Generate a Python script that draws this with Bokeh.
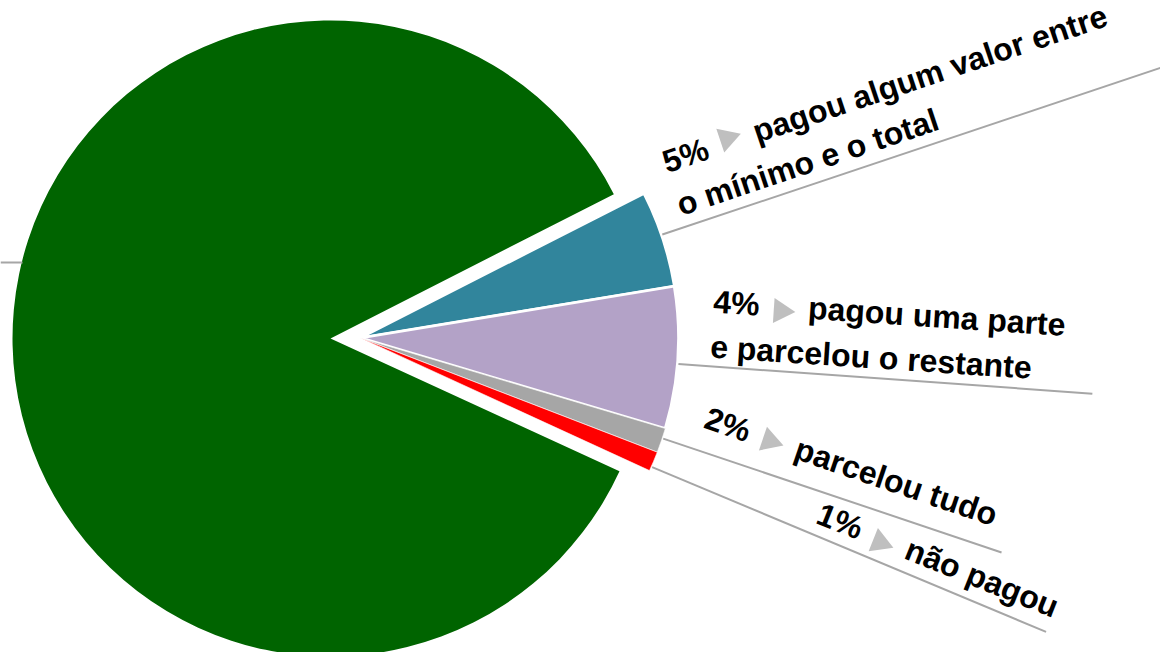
import math
from bokeh.plotting import figure
from bokeh.models import Range1d
from bokeh.core.properties import value
from bokeh.embed import file_html
from bokeh.resources import INLINE

# ---- data ----
categories = ["pagou o total", "pagou algum valor entre o mínimo e o total",
              "pagou uma parte e parcelou o restante", "parcelou tudo", "não pagou"]
shares = [85.65, 4.9, 7.2, 1.25, 1.0]          # slice sizes
pct_labels = ["5%", "4%", "2%", "1%"]            # printed labels of the small slices
label_line1 = ["pagou algum valor entre", "pagou uma parte", "parcelou tudo", "não pagou"]
label_line2 = ["o mínimo e o total", "e parcelou o restante", "", ""]
colors = ["#006400", "#31859C", "#B3A2C7", "#A6A6A6", "#FF0000"]

# ---- layout (reference pixel space, y measured down from top) ----
W, H = 1160, 652
center = (330, 338)
radius = 318
explode = 30
start_deg = 27.0
stroke = [0, 2.5, 2.8, 0.6, 0.6]
leader_start_deg = [18.9, -4.7, -18.4, -23.9]   # point on the arc
leader_dir_deg = [18.5, -4.1, -18.6, -22.7]     # direction of the line
leader_len = [540, 415, 357, 427]
label_anchor = [(665, 168), (712, 315), (702, 427), (813, 525)]
label_rot = [18.5, -3.8, -18.8, -21.8]
text_lift = [6, 14, 11, 14]
font_px = 32

p = figure(width=W, height=H, output_backend="svg", toolbar_location=None,
           x_range=Range1d(0, W), y_range=Range1d(0, H),
           min_border=0, background_fill_color="white", border_fill_color="white")
p.axis.visible = False
p.grid.visible = False
p.outline_line_color = None

def Y(y):
    return H - y

small = shares[1:]
small_total = sum(small)
group_mid = start_deg - small_total / 100 * 360 / 2
sx = center[0] + explode * math.cos(math.radians(group_mid))
sy = Y(center[1]) + explode * math.sin(math.radians(group_mid))

# green (largest) slice
g_start = start_deg
g_end = start_deg - small_total / 100 * 360 + 360
p.wedge(x=[center[0]], y=[Y(center[1])], radius=radius,
        start_angle=[math.radians(g_start)], end_angle=[math.radians(g_end)],
        direction="anticlock", fill_color=colors[0], line_color=None)

# small slices, clockwise from start_deg
a = start_deg
for i, v in enumerate(small):
    span = v / 100 * 360
    e = a - span
    p.wedge(x=[sx], y=[sy], radius=radius,
            start_angle=[math.radians(e)], end_angle=[math.radians(a)],
            direction="anticlock", fill_color=colors[i + 1],
            line_color="white", line_width=stroke[i + 1])
    a = e

# leader lines
x0s, y0s, x1s, y1s = [], [], [], []
for st, d, L in zip(leader_start_deg, leader_dir_deg, leader_len):
    bx = sx + (radius + 1) * math.cos(math.radians(st))
    by = sy + (radius + 1) * math.sin(math.radians(st))
    x0s.append(bx); y0s.append(by)
    x1s.append(bx + L * math.cos(math.radians(d)))
    y1s.append(by + L * math.sin(math.radians(d)))
# stub of the green slice's leader (its label lies off-canvas)
x0s.append(0); y0s.append(Y(262)); x1s.append(22); y1s.append(Y(262))
p.segment(x0=x0s, y0=y0s, x1=x1s, y1=y1s, line_color="#A6A6A6", line_width=2)

# labels
fnt = value("Liberation Sans")
for i in range(4):
    ax, ay = label_anchor[i][0], Y(label_anchor[i][1])
    t = math.radians(label_rot[i])
    ux, uy = math.cos(t), math.sin(t)
    nx, ny = -math.sin(t), math.cos(t)
    tx, ty = ax + text_lift[i] * nx, ay + text_lift[i] * ny
    common = dict(angle=t, text_font=fnt, text_font_style="bold",
                  text_font_size=f"{font_px}px", text_color="black",
                  text_align="left", text_baseline="alphabetic")
    p.text(x=[tx], y=[ty], text=[pct_labels[i]], **common)
    p.text(x=[tx + 95 * ux], y=[ty + 95 * uy], text=[label_line1[i]], **common)
    if label_line2[i]:
        p.text(x=[tx - 45 * nx], y=[ty - 45 * ny], text=[label_line2[i]], **common)
    p.scatter(x=[ax + 68 * ux + 9 * nx], y=[ay + 68 * uy + 9 * ny], marker="triangle",
              size=25, angle=t - math.pi / 2, fill_color="#BFBFBF", line_color=None)

open("out.html", "w").write(file_html(p, INLINE))
